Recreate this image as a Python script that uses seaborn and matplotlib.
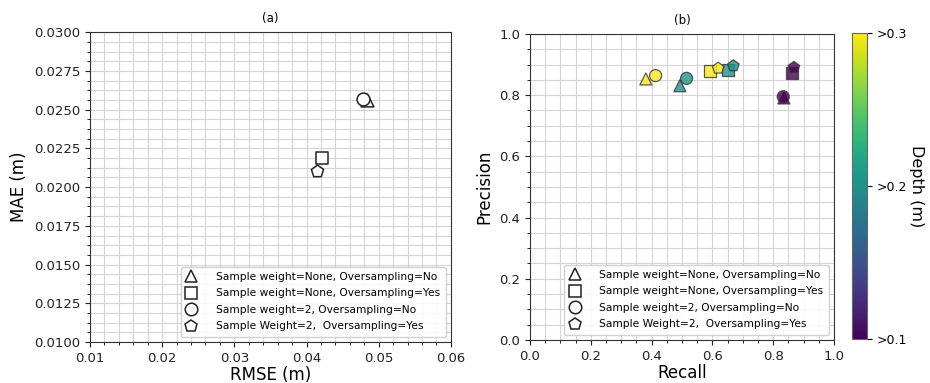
import numpy as np
import pandas as pd
import matplotlib
matplotlib.use("Agg")
import matplotlib.pyplot as plt
import seaborn as sns
from matplotlib.ticker import AutoMinorLocator, MultipleLocator
from matplotlib.lines import Line2D
from matplotlib.colors import Normalize
from matplotlib.cm import ScalarMappable

labels = ["Sample weight=None, Oversampling=No",
          "Sample weight=None, Oversampling=Yes",
          "Sample weight=2, Oversampling=No",
          "Sample Weight=2,  Oversampling=Yes"]
markers = ["^", "s", "o", "p"]

# panel (a)
rmse = [0.0484, 0.0422, 0.0478, 0.0415]
mae = [0.02559, 0.02185, 0.02568, 0.02101]

# panel (b): per depth, values in order triangle, square, circle, pentagon
depths = [0.3, 0.2, 0.1]
recall_d03 = [0.381, 0.592, 0.413, 0.619]
precision_d03 = [0.853, 0.879, 0.864, 0.888]
recall_d02 = [0.493, 0.652, 0.515, 0.669]
precision_d02 = [0.831, 0.882, 0.855, 0.896]
recall_d01 = [0.835, 0.861, 0.833, 0.868]
precision_d01 = [0.791, 0.874, 0.795, 0.891]
cbar_ticks = [0.1, 0.2, 0.3]
cbar_labels = [">0.1", ">0.2", ">0.3"]

plt.rcParams['font.family'] = ['DejaVu Sans']
fig = plt.figure(figsize=(9.3, 3.83), dpi=100)
axa = fig.add_axes([0.0968, 0.107, 0.388, 0.809])
axb = fig.add_axes([0.5699, 0.1123, 0.3269, 0.799])
cax = fig.add_axes([0.916, 0.114, 0.0161, 0.799])

dfa = pd.DataFrame({"RMSE": rmse, "MAE": mae, "config": labels})
for lab, m in zip(labels, markers):
    sns.scatterplot(data=dfa[dfa.config == lab], x="RMSE", y="MAE", marker=m,
                    s=85, facecolor="white", edgecolor="#222222", linewidth=1.1,
                    ax=axa, zorder=3)

rows = []
for d, rc, pr in zip(depths, [recall_d03, recall_d02, recall_d01],
                     [precision_d03, precision_d02, precision_d01]):
    for lab, r, p in zip(labels, rc, pr):
        rows.append({"Recall": r, "Precision": p, "Depth": d, "config": lab})
dfb = pd.DataFrame(rows)
norm = Normalize(0.1, 0.3)
cmap = plt.get_cmap("viridis")
for lab, m in zip(labels, markers):
    sub = dfb[dfb.config == lab]
    sns.scatterplot(data=sub, x="Recall", y="Precision", hue="Depth",
                    palette="viridis", hue_norm=norm, marker=m, s=75,
                    edgecolor="#333333", linewidth=0.9, alpha=0.8,
                    legend=False, ax=axb, zorder=3)

for ax in (axa, axb):
    ax.grid(True, which="both", color="#d4d4d4", linewidth=0.8, zorder=0)
    ax.set_axisbelow(True)
    ax.tick_params(labelsize=9.5, colors="#222222")
    for sp in ax.spines.values():
        sp.set_color("#333333")
    handles = [Line2D([], [], marker=m, linestyle="none", markerfacecolor="white",
                      markeredgecolor="#222222", markersize=9, markeredgewidth=1.1)
               for m in markers]
    ax.legend(handles, labels, loc="lower right", fontsize=7.7, framealpha=0.9,
              handlelength=1.0, handletextpad=1.8, labelspacing=0.6,
              borderpad=0.5)

axa.set_xlim(0.01, 0.06)
axa.set_ylim(0.01, 0.03)
axa.xaxis.set_major_locator(MultipleLocator(0.01))
axa.yaxis.set_major_locator(MultipleLocator(0.0025))
axa.xaxis.set_minor_locator(AutoMinorLocator(5))
axa.yaxis.set_minor_locator(AutoMinorLocator(4))
axa.set_xticklabels([f"{v:.2f}" for v in axa.get_xticks()])
axa.set_yticklabels([f"{v:.4f}" for v in axa.get_yticks()])
axa.set_xlabel("RMSE (m)", fontsize=12, labelpad=1)
axa.set_ylabel("MAE (m)", fontsize=12)
axa.set_title("(a)", fontsize=8.5, pad=7)

axb.set_xlim(0, 1)
axb.set_ylim(0, 1)
axb.xaxis.set_major_locator(MultipleLocator(0.2))
axb.yaxis.set_major_locator(MultipleLocator(0.2))
axb.xaxis.set_minor_locator(AutoMinorLocator(4))
axb.yaxis.set_minor_locator(AutoMinorLocator(4))
axb.set_xlabel("Recall", fontsize=12, labelpad=1)
axb.set_ylabel("Precision", fontsize=12)
axb.set_title("(b)", fontsize=8.5, pad=7)

sm = ScalarMappable(norm=norm, cmap=cmap)
sm.set_array([])
cb = fig.colorbar(sm, cax=cax, ticks=cbar_ticks)
cb.ax.set_yticklabels(cbar_labels)
cb.ax.tick_params(labelsize=9)
cb.outline.set_edgecolor("#666666")
cb.set_label("Depth (m)", rotation=270, labelpad=12, fontsize=11.5)

fig.savefig("out.png", dpi=100)
